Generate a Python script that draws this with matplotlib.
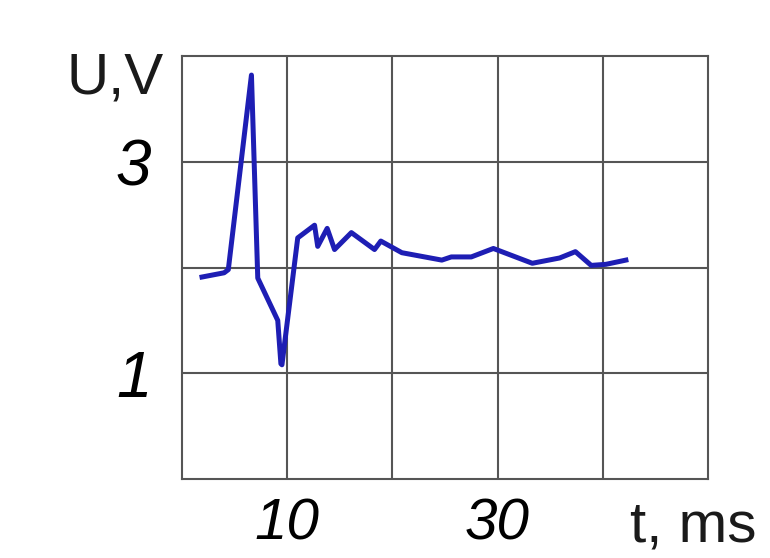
import matplotlib.pyplot as plt

plt.rcParams['font.family'] = ['Liberation Sans', 'DejaVu Sans']

# curve: t in ms, U in V
t_ms = [1.9, 4.0, 4.4, 6.6, 7.2, 9.1, 9.4, 9.5, 11.0, 12.6, 12.9, 13.8, 14.5,
        16.1, 18.3, 18.9, 20.9, 24.7, 25.6, 27.5, 29.6, 33.3, 35.9, 37.4,
        38.9, 40.3, 42.2]
u_volt = [1.91, 1.95, 1.98, 3.82, 1.90, 1.50, 1.09, 1.08, 2.28, 2.40, 2.20,
          2.37, 2.17, 2.33, 2.17, 2.25, 2.14, 2.07, 2.10, 2.10, 2.18, 2.04,
          2.09, 2.15, 2.02, 2.03, 2.07]

x_grid = [10, 20, 30, 40]
x_labels = ['10', '', '30', '']
y_grid = [1, 2, 3]
y_labels = ['1', '', '3']

fig = plt.figure(figsize=(7.7, 5.58), dpi=100)
ax = fig.add_axes([0.2364, 0.1416, 0.683, 0.758])

ax.plot(t_ms, u_volt, color='#1e1eb4', lw=3.6, solid_joinstyle='round')

ax.set_xlim(0, 50)
ax.set_ylim(0, 4)
ax.set_xticks(x_grid)
ax.set_xticklabels(x_labels, fontsize=42, style='italic')
ax.set_yticks(y_grid)
ax.set_yticklabels(y_labels, fontsize=46, style='italic')
ax.tick_params(length=0)
ax.tick_params(axis='x', pad=13)
ax.tick_params(axis='y', pad=22)
ax.grid(True, color='#555555', lw=1.5)
ax.set_axisbelow(True)
for sp in ax.spines.values():
    sp.set_color('#555555')
    sp.set_linewidth(1.5)

fig.text(0.087, 0.832, 'U,V', fontsize=42, color='#1a1a1a', va='baseline')
fig.text(0.818, 0.03, 't, ms', fontsize=42, color='#1a1a1a', va='baseline')

fig.savefig('out.png', dpi=100)
